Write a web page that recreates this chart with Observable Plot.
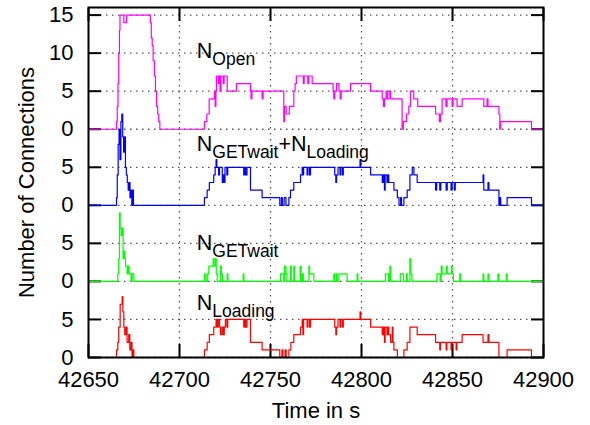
<!DOCTYPE html>
<html><head><meta charset="utf-8">
<script src="https://cdn.jsdelivr.net/npm/d3@7"></script>
<script src="https://cdn.jsdelivr.net/npm/@observablehq/plot@0.6"></script>
<style>body{margin:0;background:#fff}</style>
</head><body><div id="chart"></div>
<script>
// step series: [time in s, connections]
const nOpen = [[42650,0],[42665.4,1],[42665.8,3],[42666.2,6],[42666.6,10],[42667,13],[42667.3,15],[42669.4,14],[42670.9,15],[42684,14],[42684.5,12],[42685,11],[42685.5,9],[42686.2,7],[42686.8,5],[42687.4,3],[42688,2],[42688.6,1],[42689.2,0],[42713.7,1],[42715,2],[42716.3,4],[42719.2,5],[42719.6,3],[42720,5],[42720.3,7],[42721.3,6],[42721.8,7],[42722.3,5],[42722.8,7],[42724,6],[42724.5,7],[42726.2,5],[42731.3,6],[42739,5],[42739.3,4],[42739.8,5],[42745.4,4],[42745.9,5],[42757.3,1],[42757.7,3],[42758.6,2],[42760.3,3],[42762.8,5],[42763.5,6],[42764.2,7],[42768,6],[42768.5,7],[42770.5,6],[42771,7],[42772.9,6],[42784.4,5],[42784.8,4],[42785.3,5],[42786.3,6],[42787.6,5],[42788.3,4],[42788.8,5],[42794,6],[42805,5],[42811.4,4],[42812,3],[42812.6,4],[42813.5,5],[42814.2,4],[42815.2,5],[42816,4],[42822.3,0],[42823,1],[42824.7,2],[42826,3],[42826.9,5],[42828.7,4],[42830.9,3],[42840.7,2],[42842.8,1],[42843.4,2],[42844.3,4],[42846.4,3],[42847,4],[42849.8,3],[42850.3,4],[42852.5,3],[42855.3,4],[42867.2,3],[42869,4],[42869.5,3],[42875.5,2],[42876,0],[42876.4,1],[42893.4,0],[42900,0]];
const nBoth = [[42650,0],[42665.4,1],[42665.8,4],[42666.3,8],[42666.8,10],[42667.3,6],[42667.8,11],[42668.3,12],[42668.8,9],[42669.3,7],[42669.8,9],[42670.3,5],[42670.8,4],[42671.3,3],[42671.8,2],[42672.3,3],[42672.8,1],[42673.3,2],[42673.8,0],[42674.2,2],[42674.7,0],[42713.7,1],[42715.2,2],[42716.4,3],[42718.8,4],[42719.6,5],[42720.1,6],[42720.5,5],[42721.5,4],[42722,5],[42723.5,3],[42724,4],[42724.5,3],[42725,5],[42726,4],[42726.5,5],[42735.3,4],[42735.8,5],[42736.4,4],[42737.1,5],[42739,2],[42745.4,1],[42755.1,0],[42756,1],[42756.5,0],[42757.5,1],[42758.5,0],[42760.1,1],[42761,2],[42762.8,3],[42766.5,4],[42767.4,5],[42767.8,4],[42768.2,5],[42770.1,4],[42770.6,5],[42771.5,4],[42772,5],[42785.3,4],[42785.9,3],[42786.3,4],[42787.1,5],[42788.2,4],[42788.6,5],[42789.5,4],[42790,5],[42799.2,6],[42799.6,5],[42805,4],[42811.4,3],[42812,4],[42812.6,2],[42813,4],[42814,3],[42814.6,4],[42815,3],[42817.8,2],[42819.7,1],[42820.6,0],[42821.5,1],[42822,0],[42823.3,1],[42825.1,2],[42826.6,4],[42827.9,5],[42828.8,4],[42830.6,3],[42840.7,2],[42841.3,3],[42843,2],[42843.6,3],[42846.5,2],[42847.1,3],[42849.2,2],[42849.8,3],[42851,2],[42851.5,3],[42866.8,4],[42867.2,2],[42869.5,3],[42870,2],[42875.5,0],[42876,1],[42876.5,0],[42880,1],[42893.4,0],[42900,0]];
const nGet = [[42650,0],[42666.1,1],[42666.6,3],[42667,9],[42667.4,7],[42667.9,6],[42668.5,7],[42669,3],[42669.4,4],[42669.9,3],[42670.3,2],[42671.2,1],[42671.7,2],[42672.3,1],[42673.4,0],[42674,1],[42674.9,0],[42713.7,1],[42714.6,0],[42715.5,1],[42716.1,2],[42718.5,3],[42719,2],[42719.8,3],[42720.2,1],[42720.7,0],[42722.5,2],[42723,1],[42723.6,0],[42726.2,1],[42726.6,0],[42735,1],[42735.4,0],[42755.5,1],[42757.3,0],[42757.7,2],[42758.5,1],[42759,0],[42761,2],[42761.4,0],[42762.8,2],[42763.2,0],[42766.3,2],[42766.8,0],[42767.5,1],[42768,0],[42771.1,2],[42771.5,1],[42773.8,0],[42784.8,1],[42785.2,0],[42786.2,1],[42786.6,0],[42787.6,1],[42792.1,0],[42797.6,1],[42798,0],[42813.1,1],[42814.9,0],[42815.6,2],[42816,0],[42821.3,1],[42823.1,0],[42824.7,1],[42825.1,0],[42826.6,3],[42827,1],[42827.7,0],[42841.4,1],[42843.2,0],[42843.8,2],[42844.3,1],[42846.7,2],[42847.1,1],[42849.4,2],[42849.8,1],[42850.5,0],[42854,1],[42854.4,0],[42866.8,1],[42867.2,0],[42869.5,1],[42869.9,0],[42875,1],[42875.4,0],[42879.6,1],[42880,0],[42900,0]];
const nLoad = [[42650,0],[42665.4,1],[42666.1,2],[42666.6,4],[42667.4,7],[42668.5,8],[42668.9,6],[42669.4,4],[42669.9,3],[42670.6,4],[42671.2,2],[42672.1,3],[42672.7,1],[42673.4,2],[42673.9,0],[42674.5,1],[42674.9,0],[42713.7,1],[42715.2,2],[42716.4,3],[42718.8,4],[42720.1,5],[42720.7,4],[42721.3,5],[42722,4],[42722.5,3],[42723.3,4],[42724,3],[42724.6,4],[42725.2,5],[42726,4],[42726.5,5],[42735.3,4],[42735.8,5],[42736.4,4],[42737.1,5],[42739,2],[42745.4,1],[42755.1,0],[42756.3,1],[42756.8,0],[42758,1],[42758.6,0],[42760.1,1],[42761.2,2],[42762.8,3],[42766.5,4],[42767.4,5],[42767.8,3],[42768.2,5],[42770.1,4],[42770.6,5],[42771.5,4],[42772,5],[42785.3,4],[42785.9,3],[42786.3,4],[42787.1,5],[42788.2,4],[42788.6,5],[42789.5,4],[42790,5],[42799.2,6],[42799.6,5],[42805,4],[42811.4,3],[42812,4],[42812.6,2],[42813,4],[42814,3],[42814.6,4],[42815,3],[42816,2],[42816.9,4],[42817.3,2],[42817.8,1],[42819.7,0],[42823.3,1],[42825.1,2],[42826.6,4],[42830.6,3],[42840.7,2],[42843,1],[42843.4,2],[42846.5,1],[42846.9,2],[42849.2,1],[42849.6,2],[42852,1],[42852.4,2],[42855.3,3],[42866.8,2],[42869.5,3],[42870,2],[42875.5,0],[42880,1],[42893.4,0],[42900,0]];

const seriesList = [nOpen, nBoth, nGet, nLoad];
const seriesOffsets = [30, 20, 10, 0];
const seriesColors = ["#ff00ff", "#0000ff", "#00ff00", "#ff0000"];
const xTicks = [42650, 42700, 42750, 42800, 42850, 42900];
const yTickValues = [0, 5, 10, 15, 20, 25, 30, 35, 40, 45];
const yTickLabels = ["0", "5", "0", "5", "0", "5", "0", "5", "10", "15"];
const labelParts = [
  [["N", 0], ["Open", 1]],
  [["N", 0], ["GETwait", 1], ["+N", 0], ["Loading", 1]],
  [["N", 0], ["GETwait", 1]],
  [["N", 0], ["Loading", 1]]
];
const labelY = [39.3, 27.2, 14.1, 6.2];
const labelX = 42709.5;

const labels = labelParts.map((parts, i) => ({parts, x: labelX, y: labelY[i]}));
const lineMarks = seriesList.map((s, k) =>
  Plot.line(s.map(([t, v]) => ({t, y: v + seriesOffsets[k]})),
    {x: "t", y: "y", curve: "step-after", stroke: seriesColors[k], strokeWidth: 1.2})
);
const tickStyle = {tickSize: -13, fill: "none", stroke: "black", strokeWidth: 2, label: null};
const gridStyle = {stroke: "#555", strokeOpacity: 1, strokeWidth: 1.3, strokeDasharray: "1.5,4.5"};

const chart = Plot.plot({
  width: 590, height: 425,
  marginLeft: 88, marginRight: 47, marginTop: 7, marginBottom: 68,
  style: {fontFamily: "'Liberation Sans', Arial, Helvetica, sans-serif", fontSize: "22px", color: "black", background: "white"},
  x: {domain: [42650, 42900], axis: null},
  y: {domain: [0, 46], axis: null},
  marks: [
    Plot.gridX(xTicks, gridStyle),
    Plot.gridY(yTickValues, gridStyle),
    Plot.axisX(xTicks, {anchor: "bottom", ...tickStyle}),
    Plot.axisX(xTicks, {anchor: "top", ...tickStyle}),
    Plot.axisY(yTickValues, {anchor: "left", ...tickStyle}),
    Plot.axisY(yTickValues, {anchor: "right", ...tickStyle}),
    ...lineMarks,
    Plot.axisX(xTicks, {anchor: "bottom", tickSize: 0, tickPadding: 14, label: null, tickFormat: d => String(d)}),
    Plot.axisY(yTickValues, {anchor: "left", tickSize: 0, tickPadding: 15, label: null, tickFormat: d => yTickLabels[yTickValues.indexOf(d)]}),
    Plot.text(labels, {
      x: "x", y: "y", text: d => d.parts.map(p => p[0]).join(""),
      textAnchor: "start", lineAnchor: "bottom", fontSize: 21.5, fill: "black",
      render(index, scales, values, dimensions, context, next) {
        const g = next(index, scales, values, dimensions, context);
        g.querySelectorAll("text").forEach((node, j) => {
          const d = labels[index[j]];
          node.textContent = "";
          let sub = false;
          for (const [str, isSub] of d.parts) {
            const ts = document.createElementNS("http://www.w3.org/2000/svg", "tspan");
            ts.textContent = str;
            if (isSub && !sub) ts.setAttribute("dy", 7);
            if (!isSub && sub) ts.setAttribute("dy", -7);
            if (isSub) ts.setAttribute("font-size", 17.5);
            node.appendChild(ts);
            sub = !!isSub;
          }
        });
        return g;
      }
    }),
    Plot.text(["Number of Connections"], {frameAnchor: "left", rotate: -90, dx: -55, textAnchor: "middle", lineAnchor: "bottom", fontSize: 22, fill: "black"}),
    Plot.text(["Time in s"], {frameAnchor: "bottom", dy: 60, textAnchor: "middle", lineAnchor: "bottom", fontSize: 22, fill: "black"}),
    Plot.frame({stroke: "black", strokeWidth: 2})
  ]
});
document.getElementById("chart").appendChild(chart);
</script>
</body></html>
